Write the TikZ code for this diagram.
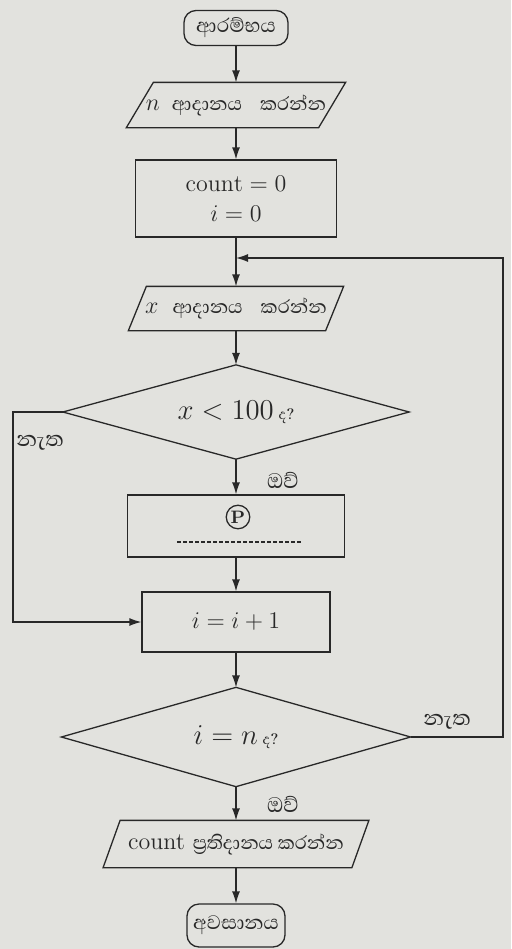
\documentclass[tikz,border=0pt]{standalone}
\usepackage{fontspec}
\usetikzlibrary{arrows.meta}
\newfontfamily\sinhfont[Script=Sinhala]{Abhaya Libre}
\definecolor{bg}{RGB}{226,226,222}
\definecolor{ink}{RGB}{40,40,40}
\begin{document}
\begin{tikzpicture}[x=0.5pt,y=-0.5pt,line width=0.65pt]
\tikzset{
  base/.style={font=\fontsize{12}{15}\selectfont, text=ink, inner sep=0pt, align=center},
  term/.style={base, draw=ink, rounded corners=6pt},
  box/.style={base, draw=ink},
  ghost/.style={base},
  arr/.style={draw=ink, -{Latex[length=6pt,width=4pt]}},
  conn/.style={draw=ink},
  shp/.style={draw=ink},
  lab/.style={font=\sinhfont\fontsize{13.5}{15}\selectfont, text=ink, inner sep=0pt},
}
\fill[bg] (0,0) rectangle (511,949);
\path[use as bounding box] (0,0) rectangle (511,949);

\node[term, minimum width=52pt, minimum height=17.5pt, font=\sinhfont\fontsize{12.5}{15}\selectfont] (start) at (236,28) {ආරම්භය};

\node[ghost, minimum width=95.5pt, minimum height=22pt] (inn) at (236,105) {$n$\hspace{6pt}{\sinhfont ආදානය\hspace{9pt}කරන්න}};
\draw[shp] ([xshift=6.75pt]inn.north west) -- ([xshift=6.75pt]inn.north east) -- ([xshift=-6.75pt]inn.south east) -- ([xshift=-6.75pt]inn.south west) -- cycle;

\node[box, minimum width=100.5pt, minimum height=38.5pt] (init) at (236,198.5) {$\mathrm{count}=0$\\ $i=0$};

\coordinate (join) at (236,258);

\node[ghost, minimum width=98pt, minimum height=21.5pt] (inx) at (236,308.5) {$x$\hspace{7pt}{\sinhfont ආදානය\hspace{9pt}කරන්න}};
\draw[shp] ([xshift=4.5pt]inx.north west) -- ([xshift=4.5pt]inx.north east) -- ([xshift=-4.5pt]inx.south east) -- ([xshift=-4.5pt]inx.south west) -- cycle;

\node[ghost, minimum width=172.5pt, minimum height=46.5pt, font=\fontsize{14}{16}\selectfont] (d1) at (236,412) {$x<100$\,{\sinhfont\fontsize{9}{10}\selectfont ද?}};
\draw[shp] (d1.north) -- (d1.east) -- (d1.south) -- (d1.west) -- cycle;

\node[box, minimum width=108.5pt, minimum height=31pt] (proc) at (236,526) {};
\node[circle, draw=ink, text=ink, inner sep=0.8pt, font=\bfseries\fontsize{9}{9}\selectfont] (p) at (238,517) {P};
\coordinate (dl) at (177,542);
\coordinate (dr) at (302,542);
\draw[draw=ink, dash pattern=on 2pt off 1pt] (dl) -- (dr);

\node[box, minimum width=94pt, minimum height=30pt, font=\fontsize{13}{15}\selectfont] (inc) at (236,622) {$i=i+1$};

\node[ghost, minimum width=174pt, minimum height=49pt, font=\fontsize{13.5}{16}\selectfont] (d2) at (236,737) {$i=n$\,{\sinhfont\fontsize{9}{10}\selectfont ද?}};
\draw[shp] (d2.north) -- (d2.east) -- (d2.south) -- (d2.west) -- cycle;

\node[ghost, minimum width=123.75pt, minimum height=23pt] (out) at (236,844) {count\ {\sinhfont ප්^^^^200dරතිදානය\ කරන්න}};
\draw[shp] ([xshift=4.25pt]out.north west) -- ([xshift=4.25pt]out.north east) -- ([xshift=-4.25pt]out.south east) -- ([xshift=-4.25pt]out.south west) -- cycle;

\node[term, minimum width=49pt, minimum height=21.5pt, font=\sinhfont\fontsize{12.5}{15}\selectfont] (end) at (236,925.5) {අවසානය};

\draw[arr] (start) -- (inn);
\draw[arr] (inn) -- (init);
\draw[conn] (init) -- (join);
\draw[arr] (join) -- (inx);
\draw[arr] (inx) -- (d1);
\draw[arr] (d1.south) -- (proc);
\draw[arr] (proc) -- (inc);
\draw[arr] (inc) -- (d2);
\draw[arr] (d2.south) -- (out);
\draw[arr] (out) -- (end);

\coordinate (lx) at (13,0);
\coordinate (rx) at (503,0);
\draw[arr] (d1.west) -- (d1.west -| lx) |- (inc.west);
\draw[arr] (d2.east) -- (d2.east -| rx) |- (join);

\node[lab] (no1) at (40,443) {නැත};
\node[lab] (yes1) at (283,480) {ඔව්};
\node[lab] (no2) at (447,722) {නැත};
\node[lab] (yes2) at (283,804) {ඔව්};
\end{tikzpicture}
\end{document}
